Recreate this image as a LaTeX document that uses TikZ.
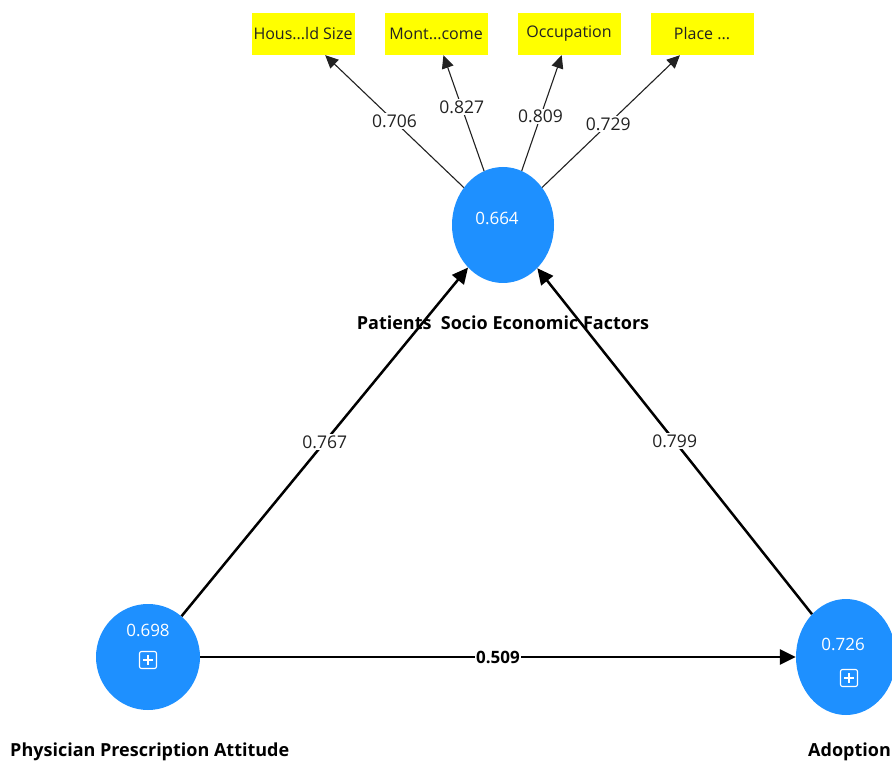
\documentclass[tikz,border=0pt]{standalone}
\usepackage{fontspec}
\setmainfont{Open Sans}
\usetikzlibrary{arrows.meta,shapes.geometric}
\definecolor{lvblue}{HTML}{1E90FF}
\definecolor{indyellow}{HTML}{FFFF00}
\definecolor{inkgray}{HTML}{222222}
\tikzset{
  latent/.style={ellipse, fill=lvblue, draw=none, inner sep=0pt},
  indicator/.style={rectangle, fill=indyellow, minimum width=103pt, minimum height=42pt,
    inner sep=0pt, font=\fontsize{16}{18}\selectfont, text=inkgray},
  loading/.style={-{Triangle[length=13pt,width=12pt]}, line width=1.1pt, draw=inkgray},
  structural/.style={-{Triangle[length=16pt,width=15pt]}, line width=2.5pt, draw=black},
  wlabel/.style={fill=white, inner sep=1.5pt, font=\fontsize{17.5}{19}\selectfont, text=inkgray},
  lvvalue/.style={text=white, inner sep=0pt, font=\fontsize{17}{19}\selectfont},
  lvname/.style={inner sep=0pt, font=\bfseries\fontsize{18}{20}\selectfont, text=black},
  expandbox/.style={draw=white, rounded corners=2pt, minimum size=17pt, inner sep=0pt, line width=1.1pt},
}
\newcommand{\plusmark}[1]{%
  \draw[white, line width=1.1pt] ([yshift=5pt]#1.center) -- ([yshift=-5pt]#1.center);
  \draw[white, line width=1.1pt] ([xshift=-5pt]#1.center) -- ([xshift=5pt]#1.center);}
\begin{document}
\begin{tikzpicture}[x=1pt,y=-1pt]
\useasboundingbox[fill=white] (0,0) rectangle (892,767);

% latent variables
\node[latent, minimum width=102pt, minimum height=116pt] (pse) at (503,225) {};
\node[latent, minimum width=104pt, minimum height=106pt] (ppa) at (148,657) {};
\node[latent, minimum width=100pt, minimum height=116pt] (adp) at (846,657) {};

% values and expand icons inside the latent variables
\node[lvvalue] (pseval) at (497,218) {0.664};
\node[lvvalue] (ppaval) at (148,630) {0.698};
\node[lvvalue] (adpval) at (843,644) {0.726};
\node[expandbox] (ppaicon) at (148,660) {};
\plusmark{ppaicon}
\node[expandbox] (adpicon) at (849,678) {};
\plusmark{adpicon}

% latent variable names
\node[lvname] (psename) at (503,323) {Patients\ \ Socio Economic Factors};
\node[lvname, anchor=west] (ppaname) at (10,752) {Physician Prescription Attitude};
\node[lvname, anchor=west] (adpname) at (808,752) {Adoption};

% indicators
\node[indicator] (hs) at (303,34) {Hous...ld Size};
\node[indicator] (mi) at (436,34) {Mont...come};
\node[indicator] (oc) at (569,34) {Occupation};
\node[indicator] (pl) at (702,34) {Place ...};

% outer loadings
\draw[loading] (pse) -- node[wlabel, pos=0.5] (l1) {0.706} (hs);
\draw[loading] (pse) -- node[wlabel, pos=0.55] (l2) {0.827} (mi);
\draw[loading] (pse) -- node[wlabel, pos=0.47] (l3) {0.809} (oc);
\draw[loading] (pse) -- node[wlabel, pos=0.48] (l4) {0.729} (pl);

% structural paths
\draw[structural] (ppa) -- node[wlabel, pos=0.5] (p1) {0.767} (pse);
\draw[structural] (adp) -- node[wlabel, pos=0.5] (p2) {0.799} (pse);
\draw[structural] (ppa) -- node[wlabel, pos=0.5, font=\bfseries\fontsize{17}{19}\selectfont, text=black] (p3) {0.509} (adp);
\end{tikzpicture}
\end{document}
